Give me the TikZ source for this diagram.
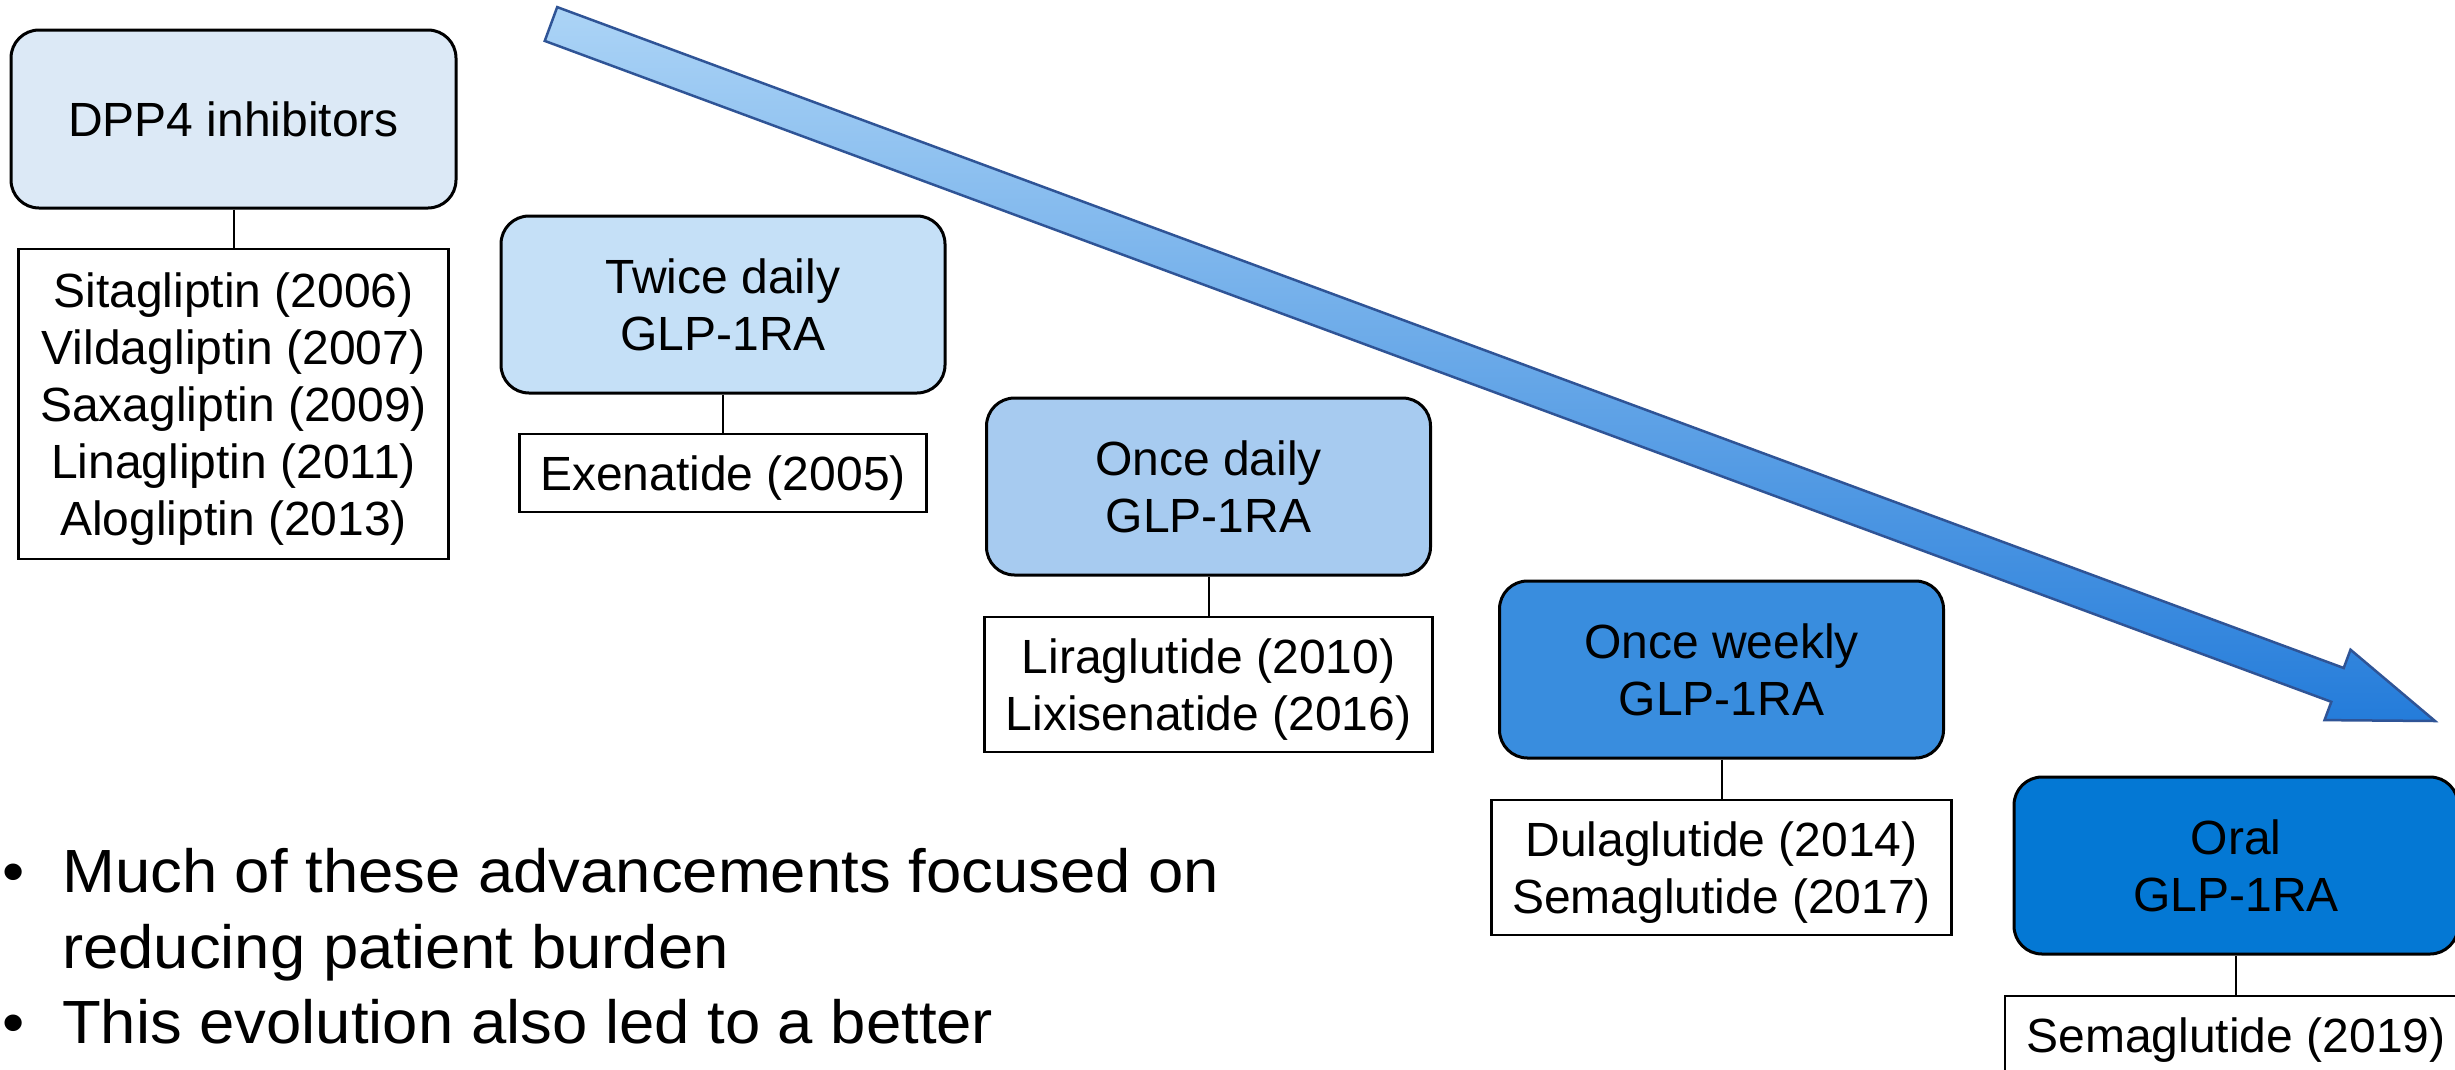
\documentclass[tikz,border=0pt]{standalone}
\usepackage{fontspec}
\setmainfont{Liberation Sans}
\newfontfamily\bulletfont[FakeStretch=1.04]{Liberation Sans}
\definecolor{fillA}{RGB}{220,233,246}
\definecolor{fillB}{RGB}{197,224,247}
\definecolor{fillC}{RGB}{167,203,240}
\definecolor{fillD}{RGB}{57,141,222}
\definecolor{fillE}{RGB}{4,120,212}
\definecolor{arrowEdge}{RGB}{47,84,150}
\definecolor{arrowTop}{RGB}{172,212,246}
\definecolor{arrowBot}{RGB}{36,124,218}
\tikzset{
  grp/.style={draw=black, line width=3pt, rounded corners=28pt, align=center, inner sep=0pt,
    minimum width=444pt, minimum height=177pt, font=\fontsize{48}{57}\selectfont},
  lst/.style={draw=black, line width=2.5pt, fill=white, align=center, inner sep=0pt,
    text depth=0pt, font=\fontsize{48}{57}\selectfont},
  link/.style={draw=black, line width=2pt},
  bul/.style={anchor=base west, inner sep=0pt, font=\bulletfont\fontsize{61}{76}\selectfont},
}
\begin{document}
\begin{tikzpicture}[x=1pt,y=-1pt]
\useasboundingbox (0,0) rectangle (2455,1069);
\fill[white] (0,0) rectangle (2455,1069);
\clip (0,0) rectangle (2455,1069);

% big block arrow
\shade[top color=arrowTop, bottom color=arrowBot, draw=arrowEdge, line width=2.5pt, line join=miter]
  (557.2,7.1) -- (2343.7,668.0) -- (2350.5,649.7) -- (2435,721)
  -- (2324.5,720.1) -- (2331.3,701.8) -- (544.75,40.9) -- cycle;

% DPP4
\node[grp, fill=fillA, minimum width=445pt, minimum height=178pt] (dpp) at (233.5,119) {DPP4 inhibitors};
\node[lst, minimum width=430pt, minimum height=310pt] (dppl) at (233.5,404)
  {Sitagliptin (2006)\\Vildagliptin (2007)\\Saxagliptin (2009)\\Linagliptin (2011)\\Alogliptin (2013)};
\draw[link] (dpp.south) -- (dppl.north);

% Twice daily
\node[grp, fill=fillB] (twice) at (723,304.5) {Twice daily\\GLP-1RA};
\node[lst, minimum width=407pt, minimum height=78pt] (exen) at (723,473) {Exenatide (2005)};
\draw[link] (twice.south) -- (exen.north);

% Once daily
\node[grp, fill=fillC] (onced) at (1208.5,486.5) {Once daily\\GLP-1RA};
\node[lst, minimum width=448pt, minimum height=135pt] (lira) at (1208.5,684.5) {Liraglutide (2010)\\Lixisenatide (2016)};
\draw[link] (onced.south) -- (lira.north);

% Once weekly
\node[grp, fill=fillD] (weekly) at (1721.5,669.5) {Once weekly\\GLP-1RA};
\node[lst, minimum width=460pt, minimum height=135pt] (dula) at (1721.5,867.5) {Dulaglutide (2014)\\Semaglutide (2017)};
\draw[link] (weekly.south) -- (dula.north);

% Oral
\node[grp, fill=fillE] (oral) at (2236,865.5) {Oral\\GLP-1RA};
\node[lst, minimum width=462pt, minimum height=78pt] (sema) at (2236,1035) {Semaglutide (2019)};
\draw[link] (oral.south) -- (sema.north);

% bullet text
\node[bul] (dot1) at (2,892) {•};
\node[bul] (t1) at (62,892) {Much of these advancements focused on};
\node[bul] (t1b) at (62,968) {reducing patient burden};
\node[bul] (dot2) at (2,1043) {•};
\node[bul] (t2) at (62,1043) {This evolution also led to a better};
\end{tikzpicture}
\end{document}
